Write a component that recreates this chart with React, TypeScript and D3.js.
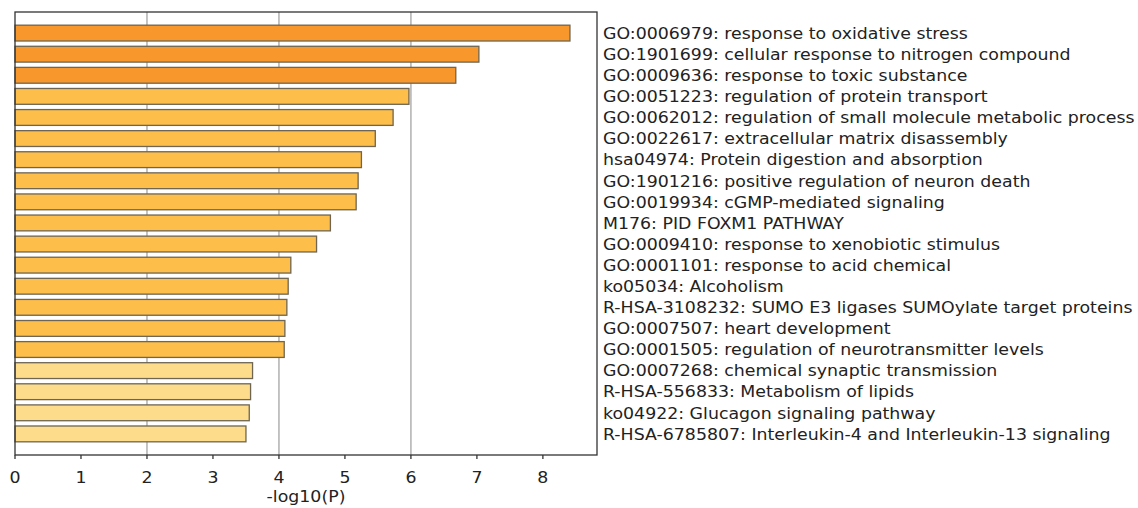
import React from 'react';
import * as d3 from 'd3';

// terms, top to bottom
const terms = [
  'GO:0006979: response to oxidative stress',
  'GO:1901699: cellular response to nitrogen compound',
  'GO:0009636: response to toxic substance',
  'GO:0051223: regulation of protein transport',
  'GO:0062012: regulation of small molecule metabolic process',
  'GO:0022617: extracellular matrix disassembly',
  'hsa04974: Protein digestion and absorption',
  'GO:1901216: positive regulation of neuron death',
  'GO:0019934: cGMP-mediated signaling',
  'M176: PID FOXM1 PATHWAY',
  'GO:0009410: response to xenobiotic stimulus',
  'GO:0001101: response to acid chemical',
  'ko05034: Alcoholism',
  'R-HSA-3108232: SUMO E3 ligases SUMOylate target proteins',
  'GO:0007507: heart development',
  'GO:0001505: regulation of neurotransmitter levels',
  'GO:0007268: chemical synaptic transmission',
  'R-HSA-556833: Metabolism of lipids',
  'ko04922: Glucagon signaling pathway',
  'R-HSA-6785807: Interleukin-4 and Interleukin-13 signaling',
];

const logP = [
  8.41, 7.03, 6.68, 5.97, 5.73, 5.46, 5.25, 5.2, 5.17, 4.78,
  4.57, 4.18, 4.14, 4.12, 4.09, 4.08, 3.6, 3.57, 3.55, 3.5,
];

// colour group per bar: 0 = strongest, 2 = weakest
const colorGroup = [0, 0, 0, 1, 1, 1, 1, 1, 1, 1, 1, 1, 1, 1, 1, 1, 2, 2, 2, 2];
const groupColors = ['#F8982C', '#FDBE4A', '#FDDC8C'];

const xTicks = [0, 1, 2, 3, 4, 5, 6, 7, 8];
const gridTicks = [2, 4, 6];

const FONT = 'DejaVu Sans, sans-serif';

export default function App() {
  const width = 1138;
  const height = 508;
  const plot = { left: 15, right: 597, top: 12, bottom: 455 };
  const labelX = 603;
  const stretch = 1.085; // the source image is a little wider than tall

  const x = d3.scaleLinear().domain([0, 8.82]).range([plot.left, plot.right]);
  const y = d3.scaleLinear().domain([-1, terms.length]).range([plot.top, plot.bottom]);
  const step = y(1) - y(0);
  const barH = step * 0.75;

  return (
    <svg
      width={width}
      height={height}
      style={{ position: 'absolute', left: 0, top: 0, background: '#fff' }}
      fontFamily={FONT}
    >
      {/* grid */}
      {gridTicks.map(t => (
        <line key={t} x1={x(t)} x2={x(t)} y1={plot.top} y2={plot.bottom} stroke="#b0b0b0" strokeWidth={1.5} />
      ))}

      {/* bars */}
      {logP.map((v, i) => (
        <rect
          key={i}
          x={x(0)}
          y={y(i) - barH / 2}
          width={x(v) - x(0)}
          height={barH}
          fill={groupColors[colorGroup[i]]}
          stroke="#6e6552"
          strokeWidth={1.3}
        />
      ))}

      {/* frame */}
      <rect
        x={plot.left}
        y={plot.top}
        width={plot.right - plot.left}
        height={plot.bottom - plot.top}
        fill="none"
        stroke="#333"
        strokeWidth={1.3}
      />

      {/* x axis */}
      {xTicks.map(t => (
        <g key={t} transform={`translate(${x(t)},${plot.bottom})`}>
          <line y1={0} y2={4} stroke="#333" strokeWidth={1.3} />
          <text y={28} textAnchor="middle" fontSize={16} fill="#222" transform={`scale(${stretch},1)`}>{t}</text>
        </g>
      ))}
      <g transform={`translate(${(plot.left + plot.right) / 2},502) scale(${stretch},1)`}>
        <text textAnchor="middle" fontSize={16} fill="#222">-log10(P)</text>
      </g>

      {/* term labels */}
      <g transform={`translate(${labelX},0) scale(${stretch},1)`}>
        {terms.map((t, i) => (
          <text key={t} x={0} y={y(i)} dy="0.36em" fontSize={16} fill="#222">
            {t}
          </text>
        ))}
      </g>
    </svg>
  );
}
